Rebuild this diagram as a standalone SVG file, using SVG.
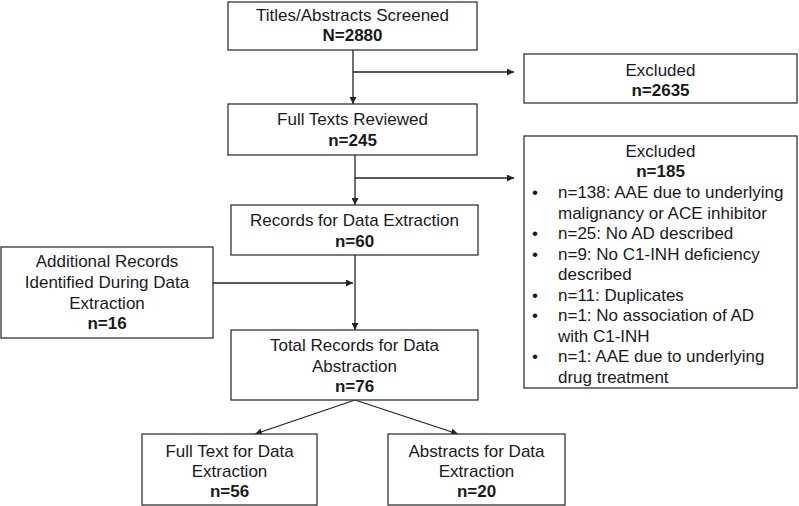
<svg xmlns="http://www.w3.org/2000/svg" width="799" height="506" viewBox="0 0 799 506">
<style>
.box{fill:#fff;stroke:#333;stroke-width:1.3}
text{font-family:"Liberation Sans",Arial,sans-serif;font-size:17px;fill:#1a1a1a}
.c{text-anchor:middle}
.b{font-weight:bold}
.ln{fill:none;stroke:#222;stroke-width:1.3}
</style>
<defs>
<marker id="ah" viewBox="0 0 10 10" refX="10" refY="5" markerWidth="7" markerHeight="7" markerUnits="userSpaceOnUse" orient="auto">
<path d="M0,0 L10,5 L0,10 z" fill="#222"/>
</marker>
</defs>
<rect width="799" height="506" fill="#fff"/>
<g id="connectors">
<line class="ln" x1="353" y1="50" x2="353" y2="104" marker-end="url(#ah)"/>
<line class="ln" x1="353" y1="72" x2="514" y2="72" marker-end="url(#ah)"/>
<line class="ln" x1="355" y1="155" x2="355" y2="205" marker-end="url(#ah)"/>
<line class="ln" x1="355" y1="178" x2="514" y2="178" marker-end="url(#ah)"/>
<line class="ln" x1="355" y1="255" x2="355" y2="330" marker-end="url(#ah)"/>
<line class="ln" x1="213" y1="283" x2="353" y2="283" marker-end="url(#ah)"/>
<line class="ln" x1="355" y1="400" x2="255" y2="434" marker-end="url(#ah)"/>
<line class="ln" x1="355" y1="400" x2="458" y2="434" marker-end="url(#ah)"/>
</g>
<g id="screened">
<rect class="box" x="228" y="2" width="249" height="48"/>
<text class="c" x="352.5" y="21">Titles/Abstracts Screened</text>
<text class="c b" x="352.5" y="41">N=2880</text>
</g>
<g id="excluded1">
<rect class="box" x="524" y="54" width="273" height="49"/>
<text class="c" x="660.5" y="76">Excluded</text>
<text class="c b" x="660.5" y="96">n=2635</text>
</g>
<g id="fulltexts">
<rect class="box" x="228" y="104" width="249" height="51"/>
<text class="c" x="352.5" y="125">Full Texts Reviewed</text>
<text class="c b" x="352.5" y="146">n=245</text>
</g>
<g id="excluded2">
<rect class="box" x="524" y="136" width="273" height="252"/>
<text class="c" x="660.5" y="157">Excluded</text>
<text class="c b" x="660.5" y="177">n=185</text>
<text x="532" y="198">•</text><text x="558" y="198">n=138: AAE due to underlying</text>
<text x="558" y="218.5">malignancy or ACE inhibitor</text>
<text x="532" y="239">•</text><text x="558" y="239">n=25: No AD described</text>
<text x="532" y="259.5">•</text><text x="558" y="259.5">n=9: No C1-INH deficiency</text>
<text x="558" y="280">described</text>
<text x="532" y="300.5">•</text><text x="558" y="300.5">n=11: Duplicates</text>
<text x="532" y="321">•</text><text x="558" y="321">n=1: No association of AD</text>
<text x="558" y="341.5">with C1-INH</text>
<text x="532" y="362">•</text><text x="558" y="362">n=1: AAE due to underlying</text>
<text x="558" y="382.5">drug treatment</text>
</g>
<g id="records">
<rect class="box" x="231" y="205" width="247" height="50"/>
<text class="c" x="354.5" y="226">Records for Data Extraction</text>
<text class="c b" x="354.5" y="247">n=60</text>
</g>
<g id="additional">
<rect class="box" x="1" y="247" width="212" height="91"/>
<text class="c" x="107" y="267">Additional Records</text>
<text class="c" x="107" y="288">Identified During Data</text>
<text class="c" x="107" y="309">Extraction</text>
<text class="c b" x="107" y="329">n=16</text>
</g>
<g id="total">
<rect class="box" x="231" y="330" width="247" height="70"/>
<text class="c" x="354.5" y="351">Total Records for Data</text>
<text class="c" x="354.5" y="372">Abstraction</text>
<text class="c b" x="354.5" y="392">n=76</text>
</g>
<g id="fulltext">
<rect class="box" x="142" y="434" width="175" height="71"/>
<text class="c" x="229.5" y="457">Full Text for Data</text>
<text class="c" x="229.5" y="477">Extraction</text>
<text class="c b" x="229.5" y="497">n=56</text>
</g>
<g id="abstracts">
<rect class="box" x="388" y="434" width="177" height="71"/>
<text class="c" x="476.5" y="457">Abstracts for Data</text>
<text class="c" x="476.5" y="477">Extraction</text>
<text class="c b" x="476.5" y="497">n=20</text>
</g>
</svg>
